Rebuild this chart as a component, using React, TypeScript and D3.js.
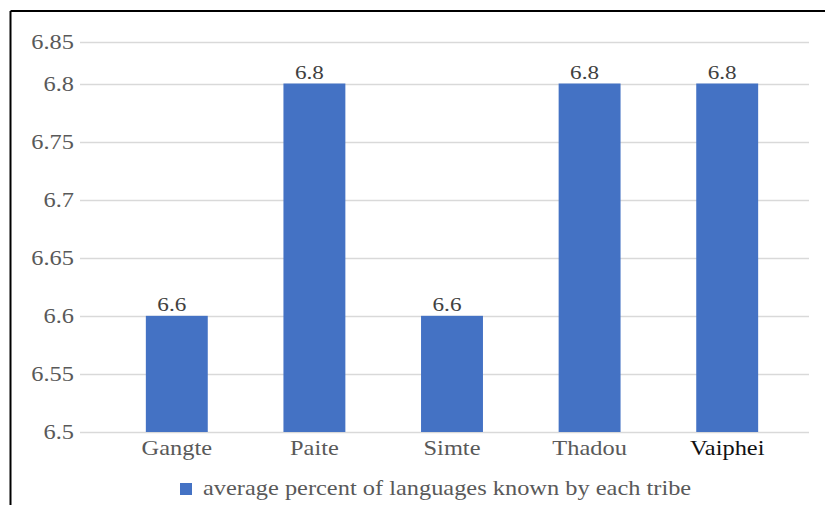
import React from "react";
import * as d3 from "d3";

const tribes = ["Gangte", "Paite", "Simte", "Thadou", "Vaiphei"];
const avgKnown = [6.6, 6.8, 6.6, 6.8, 6.8];
const yTicks = [6.5, 6.55, 6.6, 6.65, 6.7, 6.75, 6.8, 6.85];
const legendLabel = "average percent of languages known by each tribe";

const W = 825;
const H = 505;
const BLUE = "#4472C4";
const GREY = "#595959";
const SERIF = "Liberation Serif, 'Times New Roman', serif";
const SX = 1.22; // the reference text is stretched horizontally

function Label({ x, y, anchor = "start", size = 20, fill = GREY, children }: any) {
  return (
    <text
      transform={`translate(${x},${y}) scale(${SX},1)`}
      textAnchor={anchor}
      fontFamily={SERIF}
      fontSize={size}
      fill={fill}
    >
      {children}
    </text>
  );
}

export default function App() {
  // the reference's top step (6.8 -> 6.85) is drawn shorter than the others
  const y = d3.scaleLinear().domain([6.5, 6.8, 6.85]).range([432, 83.5, 42]);
  const x = d3.scaleBand<string>().domain(tribes).range([108, 796]).paddingInner(0.55).paddingOuter(0.275);
  const gridX0 = 80;
  const gridX1 = 809;

  return (
    <svg width={W} height={H} style={{ position: "absolute", left: 0, top: 0, background: "#fff" }}>
      <rect x={0} y={0} width={W} height={H} fill="#fff" />
      {/* frame: only the top and left edges fall inside the picture */}
      <line x1={10.5} y1={11} x2={W} y2={11} stroke="#000" strokeWidth={2} />
      <line x1={10.5} y1={11} x2={10.5} y2={H} stroke="#000" strokeWidth={2} />

      {yTicks.map(t => (
        <g key={t}>
          <line x1={gridX0} x2={gridX1} y1={Math.round(y(t)) + 0.5} y2={Math.round(y(t)) + 0.5} stroke="#d9d9d9" strokeWidth={1.5} />
          <Label x={74} y={y(t) + 7} anchor="end">{t}</Label>
        </g>
      ))}

      {tribes.map((c, i) => {
        const v = avgKnown[i];
        const bx = x(c)!;
        const bw = x.bandwidth();
        return (
          <g key={c}>
            <rect x={bx} y={y(v)} width={bw} height={y(6.5) - y(v)} fill={BLUE} />
            <Label x={bx + bw / 2 - 5} y={y(v) - 5} anchor="middle" size={19} fill="#404040">{v}</Label>
            <Label x={bx + bw / 2} y={455} anchor="middle" fill={c === "Vaiphei" ? "#111" : GREY}>{c}</Label>
          </g>
        );
      })}

      <rect x={180} y={483} width={12} height={12} fill={BLUE} />
      <Label x={203} y={495}>{legendLabel}</Label>
    </svg>
  );
}
